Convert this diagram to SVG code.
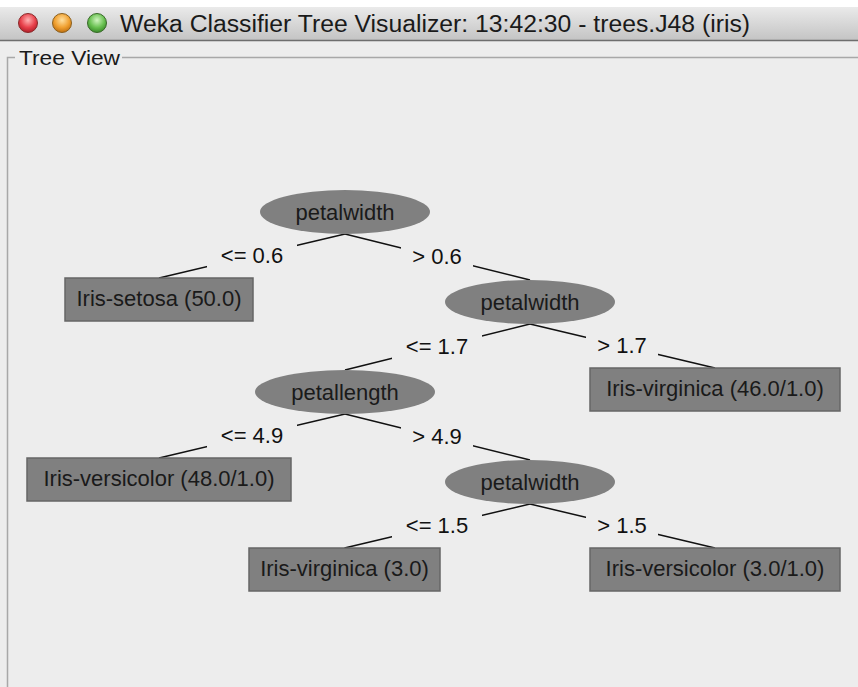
<svg xmlns="http://www.w3.org/2000/svg" width="858" height="687" viewBox="0 0 858 687">
<defs>
<linearGradient id="tb" x1="0" y1="0" x2="0" y2="1">
<stop offset="0" stop-color="#eaeaea"/>
<stop offset="1" stop-color="#c4c4c4"/>
</linearGradient>
<radialGradient id="gr" cx="0.5" cy="0.35" r="0.65">
<stop offset="0" stop-color="#ffb3b3"/>
<stop offset="0.6" stop-color="#e8404a"/>
<stop offset="1" stop-color="#b0202a"/>
</radialGradient>
<radialGradient id="go" cx="0.5" cy="0.35" r="0.65">
<stop offset="0" stop-color="#ffe0a0"/>
<stop offset="0.6" stop-color="#f0a030"/>
<stop offset="1" stop-color="#c07010"/>
</radialGradient>
<radialGradient id="gg" cx="0.5" cy="0.35" r="0.65">
<stop offset="0" stop-color="#d0f5c0"/>
<stop offset="0.6" stop-color="#68c050"/>
<stop offset="1" stop-color="#3a8a2a"/>
</radialGradient>
</defs>
<style>
.t{font-family:"Liberation Sans","DejaVu Sans",Arial,sans-serif;fill:#1a1a1a}
.nt{font-size:22px;text-anchor:middle}
.lt{font-size:22px;text-anchor:middle;fill:#111}
.ell{fill:#808080}
.leaf{fill:#808080;stroke:#666;stroke-width:1.5}
.edge{stroke:#111;stroke-width:1.5;fill:none}
.lbg{fill:#ededed}
</style>
<!-- window chrome -->
<rect x="0" y="0" width="858" height="687" fill="#ededed"/>
<rect x="0" y="0" width="858" height="7" fill="#ffffff"/>
<rect x="0" y="7" width="858" height="33" fill="url(#tb)"/>
<line x1="0" y1="40.5" x2="858" y2="40.5" stroke="#6e6e6e" stroke-width="1.5"/>
<circle cx="28" cy="23" r="9.5" fill="url(#gr)" stroke="#8a2a2a" stroke-width="1"/>
<circle cx="62" cy="23" r="9.5" fill="url(#go)" stroke="#8a6020" stroke-width="1"/>
<circle cx="97" cy="23" r="9.5" fill="url(#gg)" stroke="#3a6a2a" stroke-width="1"/>
<text class="t" x="120" y="32" font-size="23" fill="#2b2b2b" textLength="630" lengthAdjust="spacingAndGlyphs">Weka Classifier Tree Visualizer: 13:42:30 - trees.J48 (iris)</text>
<path d="M7.5 687 V57.5 H15 M122 57.5 H858" stroke="#a8a8a8" stroke-width="1.5" fill="none"/>
<text class="t" x="19" y="65" font-size="21" fill="#1a1a1a" textLength="101" lengthAdjust="spacingAndGlyphs">Tree View</text>

<g id="connectors">
<line class="edge" x1="345" y1="234" x2="159" y2="278"/>
<line class="edge" x1="345" y1="234" x2="530" y2="280"/>
<line class="edge" x1="530" y1="324" x2="345" y2="370"/>
<line class="edge" x1="530" y1="324" x2="715" y2="368"/>
<line class="edge" x1="345" y1="414" x2="159" y2="458"/>
<line class="edge" x1="345" y1="414" x2="530" y2="460"/>
<line class="edge" x1="530" y1="504" x2="344.5" y2="548"/>
<line class="edge" x1="530" y1="504" x2="715" y2="548"/>
<rect class="lbg" x="207" y="244" width="90" height="24"/>
<text class="t lt" x="252" y="263">&lt;= 0.6</text>
<rect class="lbg" x="401" y="245" width="72" height="24"/>
<text class="t lt" x="437" y="264">&gt; 0.6</text>
<rect class="lbg" x="392" y="335" width="90" height="24"/>
<text class="t lt" x="437" y="354">&lt;= 1.7</text>
<rect class="lbg" x="586" y="334" width="72" height="24"/>
<text class="t lt" x="622" y="353">&gt; 1.7</text>
<rect class="lbg" x="207" y="424" width="90" height="24"/>
<text class="t lt" x="252" y="443">&lt;= 4.9</text>
<rect class="lbg" x="401" y="425" width="72" height="24"/>
<text class="t lt" x="437" y="444">&gt; 4.9</text>
<rect class="lbg" x="392" y="514" width="90" height="24"/>
<text class="t lt" x="437" y="533">&lt;= 1.5</text>
<rect class="lbg" x="586" y="514" width="72" height="24"/>
<text class="t lt" x="622" y="533">&gt; 1.5</text>
</g>

<g id="n-root">
<ellipse class="ell" cx="345" cy="212" rx="85" ry="22"/>
<text class="t nt" x="345" y="220">petalwidth</text>
</g>
<g id="n-setosa">
<rect class="leaf" x="65" y="278" width="188" height="43"/>
<text class="t nt" x="159" y="306">Iris-setosa (50.0)</text>
</g>
<g id="n-pw2">
<ellipse class="ell" cx="530" cy="302" rx="85" ry="22"/>
<text class="t nt" x="530" y="310">petalwidth</text>
</g>
<g id="n-virginica46">
<rect class="leaf" x="590" y="368" width="250" height="43"/>
<text class="t nt" x="715" y="396">Iris-virginica (46.0/1.0)</text>
</g>
<g id="n-petallength">
<ellipse class="ell" cx="345" cy="392" rx="90" ry="22"/>
<text class="t nt" x="345" y="400">petallength</text>
</g>
<g id="n-versicolor48">
<rect class="leaf" x="27" y="458" width="264" height="43"/>
<text class="t nt" x="159" y="486">Iris-versicolor (48.0/1.0)</text>
</g>
<g id="n-pw3">
<ellipse class="ell" cx="530" cy="482" rx="85" ry="22"/>
<text class="t nt" x="530" y="490">petalwidth</text>
</g>
<g id="n-virginica3">
<rect class="leaf" x="249" y="548" width="191" height="43"/>
<text class="t nt" x="344.5" y="576">Iris-virginica (3.0)</text>
</g>
<g id="n-versicolor3">
<rect class="leaf" x="590" y="548" width="250" height="43"/>
<text class="t nt" x="715" y="576">Iris-versicolor (3.0/1.0)</text>
</g>
</svg>
